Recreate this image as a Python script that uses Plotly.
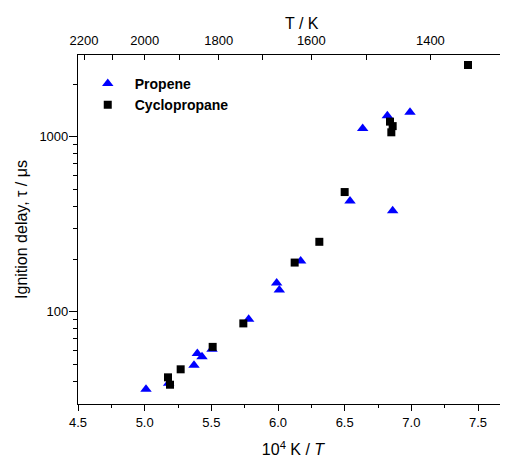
import math
import plotly.graph_objects as go

# ---- data (10^4 K / T, ignition delay in microseconds) ----
propene_x = [5.01, 5.18, 5.37, 5.395, 5.43, 5.505, 5.78, 5.99, 6.01, 6.17, 6.54, 6.635, 6.82, 6.86, 6.99]
propene_y = [36.1, 39.0, 49.5, 57.8, 55.3, 61.0, 90.5, 146, 133, 195, 430, 1115, 1320, 378, 1380]

cyclo_x = [5.175, 5.19, 5.27, 5.51, 5.74, 6.125, 6.31, 6.50, 6.84, 6.85, 6.86, 7.425]
cyclo_y = [42.2, 38.3, 46.9, 63.0, 85.8, 191, 251, 483, 1220, 1060, 1150, 2570]

# ---- axis ticks ----
T_major = [2200, 2000, 1800, 1600, 1400]
T_minor = [2100, 1900, 1700, 1500, 1300]
x_major = [4.5, 5.0, 5.5, 6.0, 6.5, 7.0, 7.5]
x_minor = [4.75, 5.25, 5.75, 6.25, 6.75, 7.25, 7.75]
y_major = [100, 1000]
y_minor = [40, 50, 60, 70, 80, 90, 200, 300, 400, 500, 600, 700, 800, 900, 2000]
r_major = [10, 100]
r_minor = [2, 3, 4, 5, 6, 7, 8, 9, 20, 30, 40, 50, 60, 70, 80, 90, 200]

FONT = "Liberation Sans, Arial, sans-serif"
XR = [4.5, 7.725]

fig = go.Figure()
fig.add_trace(go.Scatter(
    x=propene_x, y=propene_y, mode="markers", name="<b>Propene</b>",
    marker=dict(symbol="triangle-up", size=10, color="#0000FF", line=dict(width=0)),
))
fig.add_trace(go.Scatter(
    x=cyclo_x, y=cyclo_y, mode="markers", name="<b>Cyclopropane</b>",
    marker=dict(symbol="square", size=8, color="#000000", line=dict(width=0)),
))
# helper traces so the top and right axes are drawn
fig.add_trace(go.Scatter(x=[None], y=[None], xaxis="x2", yaxis="y", showlegend=False, hoverinfo="skip"))
fig.add_trace(go.Scatter(x=[None], y=[None], xaxis="x", yaxis="y2", showlegend=False, hoverinfo="skip"))

axis_common = dict(showgrid=False, zeroline=False, showline=True, linecolor="black",
                   linewidth=1.2, tickcolor="black", tickwidth=1.2, automargin=False,
                   tickfont=dict(family=FONT, size=13, color="black"))

fig.update_layout(
    width=500, height=452,
    margin=dict(l=70, r=0, t=47, b=56),
    paper_bgcolor="white", plot_bgcolor="white",
    font=dict(family=FONT, color="black"),
    xaxis=dict(
        range=XR, tickmode="array", tickvals=x_major,
        ticktext=[f"{v:.1f}" for v in x_major],
        ticks="outside", ticklen=6,
        minor=dict(tickmode="array", tickvals=x_minor, ticks="outside", ticklen=3,
                   tickcolor="black", tickwidth=1.2),
        title=dict(text="10<sup>4</sup> K / <i>T</i>", font=dict(family=FONT, size=16), standoff=15),
        **axis_common,
    ),
    xaxis2=dict(
        overlaying="x", side="top", anchor="y", range=XR, tickmode="array",
        tickvals=[1e4 / t for t in T_major], ticktext=[str(t) for t in T_major],
        ticks="inside", ticklen=5, ticklabelstandoff=4,
        minor=dict(tickmode="array", tickvals=[1e4 / t for t in T_minor], ticks="inside",
                   ticklen=5, tickcolor="black", tickwidth=1.2),
        **axis_common,
    ),
    yaxis=dict(
        type="log", range=[1.473, 3.467], tickmode="array", tickvals=y_major,
        ticktext=[str(v) for v in y_major],
        ticks="outside", ticklen=8, ticklabelstandoff=-2,
        minor=dict(tickmode="array", tickvals=y_minor, ticks="outside", ticklen=4,
                   tickcolor="black", tickwidth=1.2),
        title=dict(text="Ignition delay, \u03c4 / \u03bcs", font=dict(family=FONT, size=16), standoff=7),
        **axis_common,
    ),
    yaxis2=dict(
        type="log", overlaying="y", side="right", anchor="x", range=[-0.007, 2.451],
        tickmode="array", tickvals=r_major, showticklabels=False,
        ticks="inside", ticklen=5,
        minor=dict(tickmode="array", tickvals=r_minor, ticks="inside", ticklen=2,
                   tickcolor="black", tickwidth=1.2),
        **axis_common,
    ),
    legend=dict(
        x=0.0064, y=0.963, xanchor="left", yanchor="top",
        bgcolor="rgba(0,0,0,0)", borderwidth=0,
        font=dict(family=FONT, size=14, color="black"),
        tracegroupgap=0, itemwidth=44,
    ),
    annotations=[dict(
        text="T / K", x=0.52, y=1.0, xref="paper", yref="paper",
        xanchor="center", yanchor="bottom", yshift=21, showarrow=False,
        font=dict(family=FONT, size=16, color="black"),
    )],
)

fig.write_html("out.html", config={"displayModeBar": False})
